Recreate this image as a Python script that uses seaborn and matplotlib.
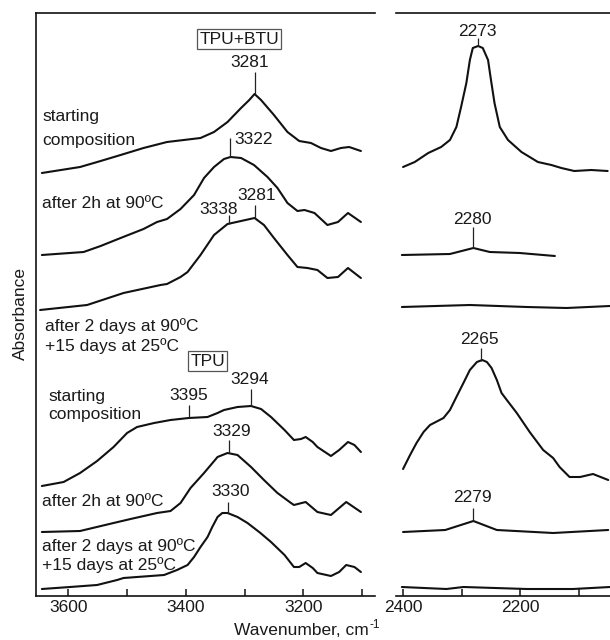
import numpy as np
import pandas as pd
import matplotlib
matplotlib.use("Agg")
import matplotlib.pyplot as plt
import seaborn as sns

# ---------------- data (wavenumber in cm-1, absorbance in a.u., stacked) ----------------
# N-H region (left panel)
nh_tpubtu_start_wn = [3645, 3580, 3545, 3511, 3472, 3432, 3375, 3352, 3329, 3306, 3292, 3283,
                      3272, 3250, 3227, 3207, 3187, 3170, 3153, 3136, 3122, 3102]
nh_tpubtu_start_ab = [4.23, 4.29, 4.35, 4.41, 4.48, 4.54, 4.58, 4.64, 4.74, 4.88, 4.96, 5.02,
                      4.96, 4.81, 4.64, 4.55, 4.53, 4.48, 4.45, 4.48, 4.49, 4.45]

nh_tpubtu_2h_wn = [3645, 3574, 3545, 3511, 3472, 3449, 3432, 3409, 3386, 3369, 3352, 3335,
                   3324, 3306, 3284, 3261, 3244, 3227, 3210, 3198, 3181, 3159, 3141, 3124, 3102]
nh_tpubtu_2h_ab = [3.41, 3.44, 3.50, 3.58, 3.67, 3.74, 3.77, 3.87, 4.01, 4.18, 4.29, 4.37,
                   4.39, 4.38, 4.31, 4.19, 4.08, 3.93, 3.85, 3.86, 3.83, 3.71, 3.74, 3.83, 3.74]

nh_tpubtu_2d_wn = [3648, 3568, 3506, 3443, 3432, 3409, 3397, 3375, 3352, 3329, 3306, 3283,
                   3267, 3250, 3227, 3210, 3193, 3176, 3159, 3141, 3124, 3102]
nh_tpubtu_2d_ab = [2.86, 2.91, 3.03, 3.11, 3.12, 3.19, 3.24, 3.41, 3.61, 3.72, 3.75, 3.78,
                   3.71, 3.58, 3.41, 3.29, 3.28, 3.26, 3.18, 3.19, 3.28, 3.18]

nh_tpu_start_wn = [3645, 3608, 3580, 3551, 3523, 3500, 3483, 3454, 3426, 3395, 3363, 3346,
                   3335, 3312, 3289, 3272, 3255, 3232, 3216, 3204, 3196, 3184, 3176, 3153,
                   3139, 3124, 3113, 3102]
nh_tpu_start_ab = [1.10, 1.14, 1.23, 1.35, 1.49, 1.63, 1.69, 1.73, 1.76, 1.78, 1.79, 1.83,
                   1.86, 1.89, 1.90, 1.87, 1.79, 1.66, 1.56, 1.57, 1.59, 1.54, 1.49, 1.40,
                   1.46, 1.54, 1.51, 1.44]

nh_tpu_2h_wn = [3645, 3580, 3523, 3494, 3449, 3426, 3409, 3392, 3369, 3346, 3329, 3312,
                3289, 3267, 3244, 3221, 3216, 3196, 3176, 3153, 3127, 3102]
nh_tpu_2h_ab = [0.64, 0.65, 0.73, 0.77, 0.83, 0.85, 0.93, 1.08, 1.23, 1.39, 1.43, 1.41,
                1.29, 1.16, 1.03, 0.93, 0.91, 0.94, 0.84, 0.81, 0.94, 0.84]

nh_tpu_2d_wn = [3645, 3597, 3551, 3517, 3506, 3437, 3415, 3397, 3386, 3375, 3363, 3355,
                3346, 3338, 3329, 3312, 3295, 3273, 3255, 3232, 3216, 3207, 3196, 3184,
                3176, 3153, 3139, 3127, 3113, 3102]
nh_tpu_2d_ab = [0.07, 0.09, 0.11, 0.16, 0.18, 0.21, 0.26, 0.31, 0.39, 0.49, 0.59, 0.69,
                0.79, 0.83, 0.83, 0.79, 0.73, 0.63, 0.54, 0.41, 0.29, 0.29, 0.33, 0.28,
                0.23, 0.20, 0.24, 0.31, 0.29, 0.24]

# N=C=O region (right panel)
nco_tpubtu_start_wn = [2400, 2380, 2357, 2335, 2320, 2309, 2301, 2292, 2286, 2281, 2272, 2264,
                       2255, 2250, 2244, 2235, 2221, 2198, 2170, 2147, 2130, 2108, 2079, 2051]
nco_tpubtu_start_ab = [4.29, 4.34, 4.43, 4.49, 4.56, 4.69, 4.89, 5.13, 5.36, 5.48, 5.50, 5.48,
                       5.36, 5.16, 4.93, 4.69, 4.56, 4.44, 4.34, 4.31, 4.28, 4.25, 4.26, 4.25]

nco_tpubtu_2h_wn = [2402, 2320, 2280, 2252, 2201, 2141]
nco_tpubtu_2h_ab = [3.41, 3.42, 3.48, 3.44, 3.43, 3.40]

nco_tpubtu_2d_wn = [2402, 2286, 2189, 2121, 2047]
nco_tpubtu_2d_ab = [2.89, 2.91, 2.89, 2.88, 2.90]

nco_tpu_start_wn = [2400, 2388, 2377, 2365, 2354, 2331, 2320, 2309, 2297, 2286, 2274, 2265,
                    2257, 2249, 2240, 2232, 2223, 2206, 2184, 2161, 2144, 2133, 2116, 2098,
                    2076, 2050]
nco_tpu_start_ab = [1.27, 1.41, 1.53, 1.64, 1.71, 1.78, 1.86, 1.99, 2.13, 2.26, 2.34, 2.36,
                    2.34, 2.28, 2.16, 2.03, 1.96, 1.83, 1.64, 1.46, 1.38, 1.29, 1.19, 1.19,
                    1.22, 1.16]

nco_tpu_2h_wn = [2400, 2328, 2280, 2240, 2144, 2050]
nco_tpu_2h_ab = [0.64, 0.66, 0.75, 0.66, 0.63, 0.66]

nco_tpu_2d_wn = [2402, 2326, 2297, 2189, 2110, 2047]
nco_tpu_2d_ab = [0.09, 0.07, 0.09, 0.07, 0.07, 0.09]

spectrum_names = ["TPU+BTU start", "TPU+BTU 2h", "TPU+BTU 2d",
                  "TPU start", "TPU 2h", "TPU 2d"]

# peak labels: text, marked wavenumber, marker bottom (peak) and top
nh_peak_text = ["3281", "3322", "3338", "3281", "3395", "3294", "3329", "3330"]
nh_peak_wn = [3283, 3324, 3326, 3283, 3395, 3289, 3327, 3329]
nh_peak_lo = [5.02, 4.39, 3.72, 3.78, 1.78, 1.90, 1.43, 0.833]
nh_peak_hi = [5.24, 4.58, 3.81, 3.91, 1.91, 2.07, 1.56, 0.94]

nco_peak_text = ["2273", "2280", "2265", "2279"]
nco_peak_wn = [2272, 2280, 2267, 2280]
nco_peak_lo = [5.50, 3.477, 2.355, 0.753]
nco_peak_hi = [5.58, 3.69, 2.48, 0.88]

# ---------------- tables ----------------
left_sets = [(nh_tpubtu_start_wn, nh_tpubtu_start_ab), (nh_tpubtu_2h_wn, nh_tpubtu_2h_ab),
             (nh_tpubtu_2d_wn, nh_tpubtu_2d_ab), (nh_tpu_start_wn, nh_tpu_start_ab),
             (nh_tpu_2h_wn, nh_tpu_2h_ab), (nh_tpu_2d_wn, nh_tpu_2d_ab)]
right_sets = [(nco_tpubtu_start_wn, nco_tpubtu_start_ab), (nco_tpubtu_2h_wn, nco_tpubtu_2h_ab),
              (nco_tpubtu_2d_wn, nco_tpubtu_2d_ab), (nco_tpu_start_wn, nco_tpu_start_ab),
              (nco_tpu_2h_wn, nco_tpu_2h_ab), (nco_tpu_2d_wn, nco_tpu_2d_ab)]


def to_frame(sets):
    rows = []
    for name, (w, a) in zip(spectrum_names, sets):
        rows.append(pd.DataFrame({"wavenumber": w, "absorbance": a, "spectrum": name}))
    return pd.concat(rows, ignore_index=True)


df_left = to_frame(left_sets)
df_right = to_frame(right_sets)

# ---------------- style ----------------
sns.set_theme(style="white")
plt.rcParams["font.family"] = ["Liberation Sans", "DejaVu Sans"]

TXT = "#1a1a1a"
FS = 12.5
W, H = 610, 640

fig = plt.figure(figsize=(6.1, 6.4), dpi=100)
axL = fig.add_axes([36 / W, 1 - 596 / H, 339 / W, 583 / H])
axR = fig.add_axes([396 / W, 1 - 596 / H, 214 / W, 583 / H])

for ax, df in ((axL, df_left), (axR, df_right)):
    sns.lineplot(data=df, x="wavenumber", y="absorbance", units="spectrum",
                 estimator=None, sort=False, color="#111111", lw=1.5,
                 legend=False, ax=ax)
    for ln in ax.get_lines():
        ln.set_solid_joinstyle("round")
        ln.set_solid_capstyle("round")
    ax.set_xlabel("")
    ax.set_ylabel("")
    ax.set_ylim(0, 5.83)
    ax.set_yticks([])
    ax.spines["right"].set_visible(False)
    for s in ("top", "bottom", "left"):
        ax.spines[s].set_linewidth(1.2)
        ax.spines[s].set_color("#111111")
    ax.tick_params(axis="x", direction="in", length=5, width=1.1, color="#111111",
                   labelsize=12.5, labelcolor=TXT, pad=3, bottom=True)

axR.spines["left"].set_visible(False)

axL.set_xlim(3655, 3078)
axL.set_xticks([3600, 3500, 3400, 3300, 3200, 3100])
axL.set_xticklabels(["3600", "", "3400", "", "3200", ""])

axR.set_xlim(2412, 2047)
axR.set_xticks([2400, 2300, 2200, 2100])
axR.set_xticklabels(["2400", "", "2200", ""])

# peak markers
axL.vlines(nh_peak_wn, nh_peak_lo, nh_peak_hi, color="#222222", lw=0.9)
axR.vlines(nco_peak_wn, nco_peak_lo, nco_peak_hi, color="#222222", lw=0.9)

# peak labels
nh_label_pos = [(3291, 5.335, "center"), (3317, 4.57, "left"), (3344, 3.87, "center"),
                (3279, 4.00, "center"), (3395, 2.00, "center"), (3291, 2.17, "center"),
                (3322, 1.64, "center"), (3324, 1.04, "center")]
for t, (x, y, ha) in zip(nh_peak_text, nh_label_pos):
    axL.text(x, y, t, ha=ha, va="center", fontsize=FS, color=TXT)

nco_label_pos = [(2274, 5.64), (2282, 3.76), (2269, 2.56), (2282, 0.99)]
for t, (x, y) in zip(nco_peak_text, nco_label_pos):
    axR.text(x, y, t, ha="center", va="center", fontsize=FS, color=TXT)

# descriptive labels
desc = [("starting", 3644, 4.80), ("composition", 3644, 4.56),
        ("after 2h at 90ºC", 3644, 3.93),
        ("after 2 days at 90ºC", 3639, 2.70), ("+15 days at 25ºC", 3639, 2.50),
        ("starting", 3634, 1.99), ("composition", 3634, 1.82),
        ("after 2h at 90ºC", 3644, 0.95),
        ("after 2 days at 90ºC", 3644, 0.50), ("+15 days at 25ºC", 3644, 0.31)]
for t, x, y in desc:
    axL.text(x, y, t, ha="left", va="center", fontsize=FS, color=TXT)

box = dict(boxstyle="square,pad=0.12", fc="white", ec="#555555", lw=0.9)
axL.text(3309, 5.57, "TPU+BTU", ha="center", va="center", fontsize=FS, color=TXT, bbox=box)
axL.text(3363, 2.35, "TPU", ha="center", va="center", fontsize=FS, color=TXT, bbox=box)

fig.text(20 / W, 1 - 314 / H, "Absorbance", rotation=90, ha="center", va="center",
         fontsize=FS, color=TXT)

# x axis title with manual superscript
main = fig.text(0, 0, "Wavenumber, cm", ha="left", va="center", fontsize=FS, color=TXT)
sup = fig.text(0, 0, "-1", ha="left", va="center", fontsize=8.5, color=TXT)
renderer = fig.canvas.get_renderer()
w1 = main.get_window_extent(renderer).width
w2 = sup.get_window_extent(renderer).width
left = 307 - (w1 + w2 + 1) / 2
main.set_position((left / W, 1 - 630.5 / H))
sup.set_position(((left + w1 + 1) / W, 1 - 625 / H))

fig.savefig("out.png", dpi=100)
